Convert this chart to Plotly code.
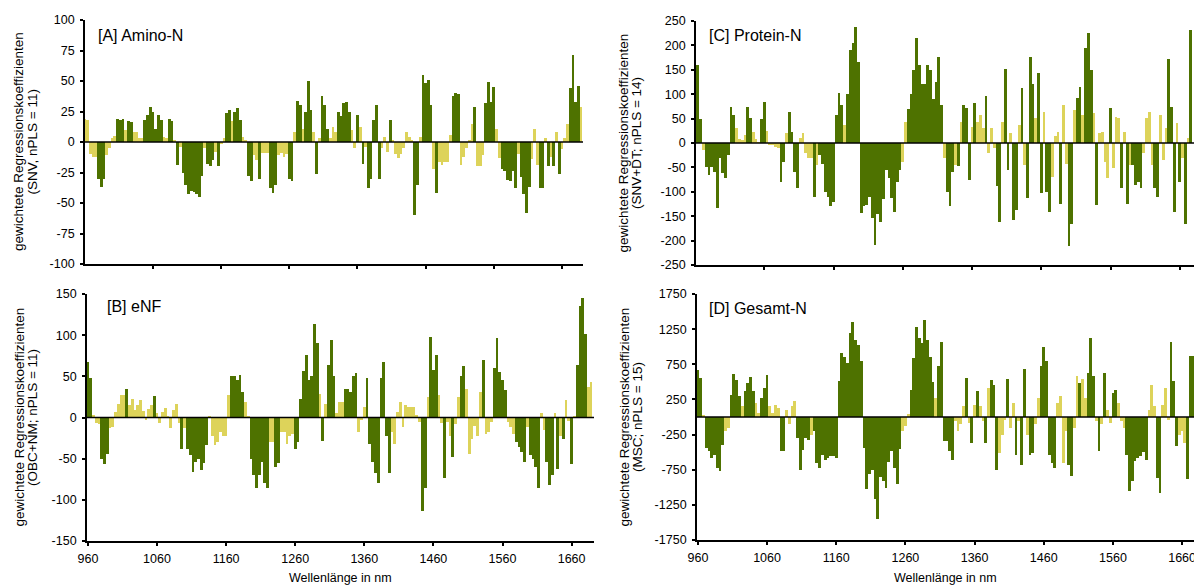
import plotly.graph_objects as go

W, H = 1194, 587
GREEN = "#4E7200"
YELLOW = "#DDD35A"
FONT = "Liberation Sans, Arial, sans-serif"

# ---------------- data (weighted regression coefficients, 4 nm steps) ----------------
wl_A = list(range(960, 1692, 4))
vals_A = [
    19, 18, -10, -12, -12, -30, -37, -30, -11, -5,
    3, 5, 19, 18, 19, 10, 17, 16, 8, 8,
    3, 3, 18, 22, 29, 25, 11, 22, 18, 4,
    3, 19, 17, 1, -19, -4, -25, -35, -43, -40,
    -41, -43, -45, -28, -5, -18, -20, -15, -8, -20,
    -2, 3, 24, 26, 17, 25, 28, 18, 4, 1,
    -28, -32, -11, -15, -30, -9, -9, -9, -38, -42,
    -35, -11, -9, -12, -10, -30, -32, 8, 34, 30,
    11, 25, 50, 26, 8, -26, 3, 38, 30, 11,
    3, 12, 8, 25, 21, 32, 33, 25, 10, -5,
    22, 12, -18, -4, -38, -30, 18, 30, -30, -5,
    4, -8, 18, 2, -10, -13, -10, -5, 8, 4,
    1, -60, -35, 4, 55, 48, 51, 30, -22, -42,
    -16, -19, -16, -16, 6, 38, 40, 39, -19, -12,
    -5, 2, 15, 29, -20, -20, -11, 32, 49, 33,
    45, 11, -13, -22, -24, -31, -32, -24, -38, -10,
    -29, -43, -58, -37, -14, 11, -19, -38, -38, 3,
    -20, -12, -20, 8, -26, -6, 3, 15, 44, 71,
    33, 46, 29,
]
sig_A = ("yyyyygggyy" "yygggyggyy" "yygggggggy" "yggygygggg" "ggggygggyg"
         "yyggygggyy" "ggyygyyygg" "gyyyyggygg" "ygggygyggg" "yyygggggyy"
         "gygygggggy" "yygyyyyyyy" "yggyggggyg" "yyyyygggyy" "yyygyyyggg"
         "gyyggggggy" "ggggyyyggy" "gygygyyygg" "ggy")

wl_B = list(range(960, 1692, 4))
vals_B = [
    68, 48, 3, -7, -8, -50, -56, -44, -13, -11,
    7, 17, 27, 27, 35, 15, 23, 9, 15, 21,
    8, -3, 10, 15, 26, 5, -7, 7, 11, 2,
    -13, 9, 17, -7, -38, -13, -38, -45, -66, -54,
    -50, -64, -55, -34, 1, -22, -34, -30, -17, -22,
    -22, 27, 50, 50, 45, 52, 31, 19, 2, -50,
    -70, -86, -70, -54, -80, -86, -30, -30, -60, -55,
    -17, -17, -32, -22, -20, -38, -30, 23, 56, 76,
    45, 50, 113, 90, 29, -28, 17, 64, 94, 50,
    5, 19, 19, 35, 35, 31, 50, 54, -17, -3,
    13, 48, -32, -54, -68, -80, 48, 68, -22, -68,
    -17, -32, 7, 19, -11, 15, 13, 13, 13, 3,
    -5, -113, -86, 25, 98, 58, 76, 27, -7, -74,
    -5, -22, -48, -8, 25, 50, 62, 35, -44, -26,
    -10, -22, 31, 70, -20, -17, -5, 60, 96, 55,
    45, 33, -5, -12, -20, -30, -36, -42, -54, -11,
    -46, -50, -60, -86, 6, -15, -54, -82, -70, 5,
    -62, -22, -26, 21, -4, -56, 1, 64, 135, 145,
    102, 37, 43,
]
sig_B = ("ggyyygggyy" "yyyygyyyyy" "yyyygyyyyy" "yyyygygggg" "ggggyyyyyy"
         "yygggggyyg" "ggggggyygg" "yyyyyggggg" "ggggygyggg" "yyygggggyy"
         "yggggggggg" "yyyyyyyyyy" "yggygggyyg" "yygyyggyyy" "yyygyyyggg"
         "ggyyyggggy" "ggggyygggy" "gygyygyggg" "gyy")

wl_C = list(range(960, 1680, 4))
vals_C = [
    175, 160, 50, -14, -50, -66, -50, -59, -134, -31,
    -62, -72, -25, 74, 57, 30, 8, 6, 16, 74,
    51, 23, 8, 2, 50, 85, 25, -5, -5, -8,
    -11, -79, -38, 20, 64, 23, -59, -93, 10, 20,
    -21, -31, -31, -110, -45, -25, -42, -100, -110, -130,
    -120, 57, 102, 78, 37, 100, 190, 204, 238, 167,
    -144, -130, -127, -110, -154, -209, -145, -161, -115, -55,
    -72, -113, -141, -80, -55, -38, 44, 70, 100, 150,
    215, 160, 120, 120, 160, 150, 90, 126, 177, 78,
    -31, -100, -130, -60, -45, -48, 44, 78, 71, -76,
    33, 83, 44, 57, 30, 96, -21, 30, -10, -89,
    -161, 44, 152, -55, 20, -158, -137, 37, 113, -45,
    -113, 177, 120, 51, 143, -103, 64, -100, -141, -69,
    15, 23, -124, 78, -42, -212, -165, 68, 92, 115,
    57, 194, 225, 150, 61, -127, 20, 23, -38, -72,
    71, -52, 54, 51, -93, 23, -124, -45, -45, -86,
    -79, -93, -20, 51, 64, -45, -93, -110, 57, -35,
    30, 173, 74, -141, 40, -79, -30, -165, 10, 231,
]
sig_C = ("gggygggggg" "gggggyyyyg" "gyyyggyyyy" "yggyggggyy" "yyygyggggg"
         "ggggyggggg" "gggggggggg" "gggggyyggg" "gggggggggg" "ygggygyggg"
         "ygyyygyyyg" "gyggyggygy" "gggyggyggy" "yygyyggygg" "ygggygyyyy"
         "gyyygygygg" "ggyyyyggyy" "ygggygygyg")

wl_D = list(range(960, 1680, 4))
vals_D = [
    672, 553, 30, -440, -487, -582, -535, -724, -771, -393,
    -203, -150, 317, 610, 530, 293, 151, 364, 482, 563,
    364, 199, 57, 270, 412, 591, 151, 60, 166, 128,
    -487, -487, 104, -100, 151, 222, -300, -747, -463, -298,
    -322, -250, -203, -650, -724, -535, -605, -582, -558, -558,
    -582, 506, 908, 850, 766, 1200, 1357, 1100, 1026, 800,
    -440, -1031, -818, -760, -1173, -1457, -850, -913, -1007, -640,
    -487, -724, -960, -450, -200, -132, 40, 388, 837, 1287,
    1121, 1050, 1381, 1097, 850, 500, 270, 719, 1074, -345,
    -345, -487, -605, -60, -203, -100, 151, 553, -80, -369,
    175, 374, 151, -60, -369, 412, 530, 459, -747, -510,
    -250, -40, 544, -156, 199, -535, -60, -676, 686, -250,
    -535, -510, -100, 270, 719, 989, 790, -535, -653, -724,
    199, 293, -653, -203, -676, -842, -150, 577, 482, 544,
    270, 624, 1121, 577, -60, -487, -100, 624, 104, -80,
    341, 388, 200, -50, -150, -535, -1055, -913, -629, -582,
    -558, -500, -605, 104, 459, 150, -866, -1078, 175, 412,
    -40, 1074, 506, -416, -250, -200, -369, -889, 861, 861,
]
sig_D = ("ggyggggggg" "yyggggyggg" "gyygggyyyy" "ggyyyygggg" "gygggggggg"
         "gggggggggg" "gggggggggg" "ggggyyyggg" "ggggggyggg" "gggyyyygyg"
         "ygyygygggy" "yygyygyggy" "ggyygggggg" "yyyyggyygy" "ygggygygyy"
         "ggyyyggggg" "gggyyyggyy" "ygggyyyggg")

x_ticks = [960, 1060, 1160, 1260, 1360, 1460, 1560, 1660]

y_ticks_A = [100, 75, 50, 25, 0, -25, -50, -75, -100]
y_ticks_B = [150, 100, 50, 0, -50, -100, -150]
y_ticks_C = [250, 200, 150, 100, 50, 0, -50, -100, -150, -200, -250]
y_ticks_D = [1750, 1250, 750, 250, -250, -750, -1250, -1750]

titles = ["[A] Amino-N", "[B] eNF", "[C] Protein-N", "[D] Gesamt-N"]
ylabels = ["(SNV, nPLS = 11)", "(OBC+NM; nPLS = 11)",
           "(SNV+DT; nPLS = 14)", "(MSC; nPLS = 15)"]
ylabel_main = "gewichtete Regressionskoeffizienten"
xlabel = "Wellenlänge in nm"

# ---------------- layout geometry (pixels) ----------------
panels = [
    dict(wl=wl_A, v=vals_A, s=sig_A, yt=y_ticks_A, l=85, r=583, t=20, b=264,
         xr=[960.3, 1690.8], lab=False, title_xy=(95.5, 35), ylab_x=(19, 32.5)),
    dict(wl=wl_B, v=vals_B, s=sig_B, yt=y_ticks_B, l=87, r=594, t=294, b=541,
         xr=[958.7, 1692.4], lab=True, title_xy=(104.5, 306), ylab_x=(19, 32.5)),
    dict(wl=wl_C, v=vals_C, s=sig_C, yt=y_ticks_C, l=696, r=1194, t=21, b=265,
         xr=[961.3, 1680.6], lab=False, title_xy=(706.5, 35), ylab_x=(623.5, 637)),
    dict(wl=wl_D, v=vals_D, s=sig_D, yt=y_ticks_D, l=697, r=1194, t=294, b=540,
         xr=[958.7, 1677.2], lab=True, title_xy=(707, 308), ylab_x=(623.5, 637)),
]

fig = go.Figure()
layout = dict(width=W, height=H, margin=dict(l=0, r=0, t=0, b=0, autoexpand=False),
              paper_bgcolor="white", plot_bgcolor="white", showlegend=False,
              bargap=0, font=dict(family=FONT, color="black", size=12.5))
annotations = []
shapes = []

for i, p in enumerate(panels):
    assert len(p["wl"]) == len(p["v"]) == len(p["s"]), (i, len(p["wl"]), len(p["v"]), len(p["s"]))
    n = "" if i == 0 else str(i + 1)
    xa, ya = "x" + n, "y" + n
    colors = [GREEN if c == "g" else YELLOW for c in p["s"]]
    fig.add_trace(go.Bar(x=p["wl"], y=p["v"], width=4, marker=dict(color=colors, line=dict(width=0)),
                         xaxis=xa, yaxis=ya, hoverinfo="x+y"))
    ymax = max(p["yt"])
    layout["xaxis" + n] = dict(
        domain=[p["l"] / W, p["r"] / W], range=p["xr"], anchor=ya,
        tickmode="array", tickvals=x_ticks, ticktext=[str(t) for t in x_ticks],
        showticklabels=p["lab"], ticks="outside", ticklen=3, tickwidth=1.5, tickcolor="black",
        showline=True, linecolor="black", linewidth=1.8, showgrid=False, zeroline=False,
        ticklabeloverflow="allow", automargin=False, ticklabelstandoff=2,
        tickfont=dict(size=12.5, family=FONT, color="black"))
    layout["yaxis" + n] = dict(
        domain=[1 - p["b"] / H, 1 - p["t"] / H], range=[-ymax, ymax], anchor=xa,
        tickmode="array", tickvals=p["yt"], ticktext=[str(t) for t in p["yt"]],
        ticks="outside", ticklen=3, tickwidth=1.5, tickcolor="black",
        showline=True, linecolor="black", linewidth=1.8, showgrid=False, zeroline=False,
        automargin=False, ticklabelstandoff=3,
        tickfont=dict(size=12.5, family=FONT, color="black"))
    shapes.append(dict(type="line", xref=xa + " domain", yref=ya, x0=0, x1=1, y0=0, y1=0,
                       line=dict(color="black", width=1.6), layer="above"))
    tx, ty = p["title_xy"]
    annotations.append(dict(text=titles[i], x=tx / W, y=1 - ty / H, xref="paper", yref="paper",
                            xanchor="left", yanchor="middle", showarrow=False,
                            font=dict(size=16, family=FONT, color="black")))
    ymid = 1 - (p["t"] + p["b"]) / 2 / H
    for txt, lx in zip([ylabel_main, ylabels[i]], p["ylab_x"]):
        annotations.append(dict(text=txt, textangle=-90, x=lx / W, y=ymid,
                                xref="paper", yref="paper", xanchor="center", yanchor="middle",
                                showarrow=False, font=dict(size=13.5, family=FONT, color="black")))
    if p["lab"]:
        annotations.append(dict(text=xlabel, x=(p["l"] + p["r"]) / 2 / W, y=1 - 578 / H,
                                xref="paper", yref="paper", xanchor="center", yanchor="middle",
                                showarrow=False, font=dict(size=12.5, family=FONT, color="black")))

layout["annotations"] = annotations
layout["shapes"] = shapes
fig.update_layout(**layout)
fig.write_html("out.html")
